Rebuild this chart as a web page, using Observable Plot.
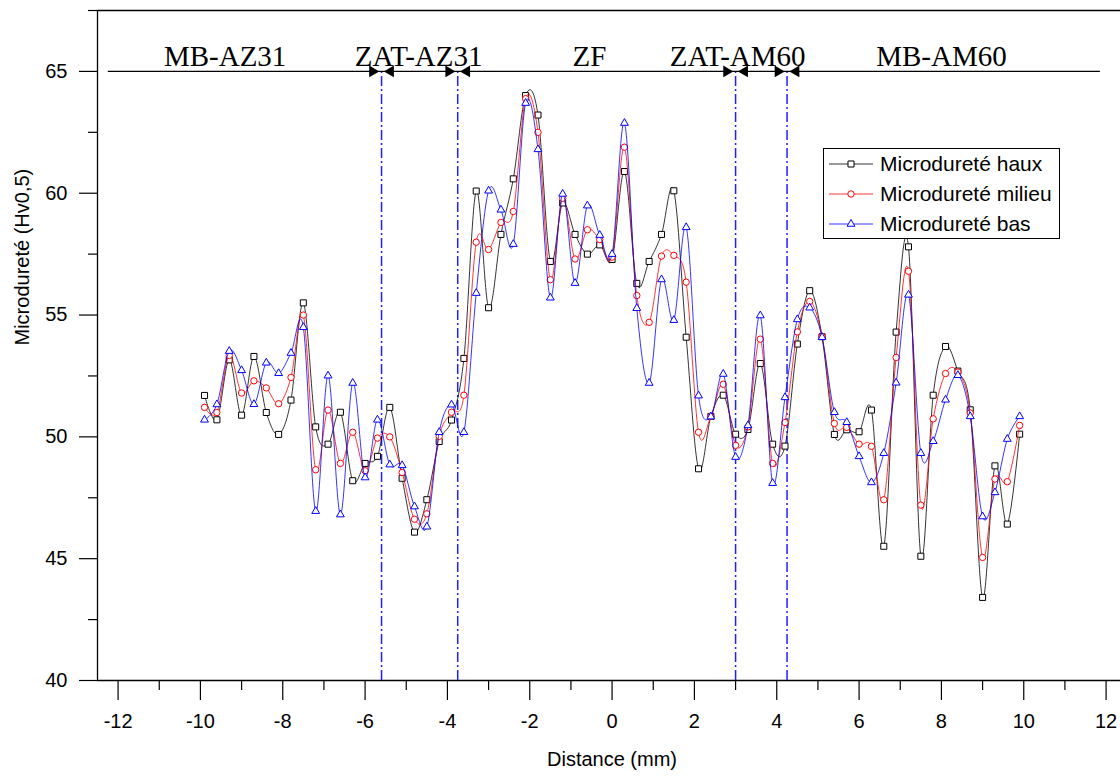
<!DOCTYPE html>
<html><head><meta charset="utf-8">
<script src="https://cdn.jsdelivr.net/npm/d3@7"></script>
<script src="https://cdn.jsdelivr.net/npm/@observablehq/plot@0.6"></script>
<style>
body{margin:0;background:#fff;}
#wrap{position:relative;width:1120px;height:776px;overflow:hidden;}
#legend{position:absolute;left:823px;top:148px;width:237px;height:91px;border:1.5px solid #000;background:#fff;
 font-family:'Liberation Sans',Arial,sans-serif;font-size:21px;box-sizing:border-box;color:#000;}
.row{height:30px;display:flex;align-items:center;}
.row svg{margin-left:3px;margin-right:5px;}
</style></head>
<body><div id="wrap"><div id="legend"></div></div>
<script>
// ---- data ----
const distance = [-9.9,-9.6,-9.3,-9.0,-8.7,-8.4,-8.1,-7.8,-7.5,-7.2,-6.9,-6.6,-6.3,-6.0,-5.7,-5.4,-5.1,
 -4.8,-4.5,-4.2,-3.9,-3.6,-3.3,-3.0,-2.7,-2.4,-2.1,-1.8,-1.5,-1.2,-0.9,-0.6,-0.3,0.0,
 0.3,0.6,0.9,1.2,1.5,1.8,2.1,2.4,2.7,3.0,3.3,3.6,3.9,4.2,4.5,4.8,5.1,
 5.4,5.7,6.0,6.3,6.6,6.9,7.2,7.5,7.8,8.1,8.4,8.7,9.0,9.3,9.6,9.9];
const haux = [51.7,50.7,53.16,50.89,53.3,51.0,50.1,51.51,55.5,50.41,49.7,51.01,48.2,48.91,49.2,51.21,48.3,
 46.09,47.42,49.81,50.69,53.22,60.09,55.3,58.31,60.59,64.01,63.21,57.2,59.6,58.31,57.5,57.88,57.28,
 60.89,56.3,57.2,58.31,60.1,54.09,48.69,50.84,51.71,50.11,50.3,53.01,49.7,49.62,53.81,56.0,54.11,
 50.1,50.29,50.21,51.1,45.51,54.3,57.8,45.1,51.71,53.71,52.7,51.11,43.41,48.81,46.42,50.11];
const milieu = [51.21,51.0,53.34,51.8,52.3,52.01,51.36,52.44,55.0,48.65,51.1,48.91,50.19,48.61,49.95,50.0,48.54,
 46.62,46.84,50.02,51.01,51.71,57.99,57.69,58.8,59.25,63.88,62.5,56.45,59.79,57.3,58.5,58.1,57.38,
 61.89,55.8,54.7,57.42,57.45,56.35,50.19,50.84,52.16,49.65,50.41,54.01,48.91,50.59,54.31,55.56,54.12,
 50.55,50.39,49.7,49.61,47.42,53.26,56.8,47.2,50.74,52.6,52.66,50.98,45.05,48.27,48.16,50.47];
const bas = [50.7,51.33,53.52,52.73,51.34,53.04,52.61,53.44,54.5,46.95,52.51,46.81,52.21,48.33,50.7,48.86,48.83,
 47.14,46.31,50.19,51.32,50.19,55.9,60.1,59.32,57.91,63.7,61.8,55.71,59.97,56.31,59.49,58.28,57.5,
 62.88,55.28,52.21,56.46,54.79,58.6,51.69,50.83,52.58,49.17,50.47,54.98,48.1,51.62,54.82,55.3,54.09,
 51.01,50.6,49.2,48.13,49.33,52.22,55.83,49.33,49.82,51.52,52.53,50.84,46.73,47.72,49.91,50.84];

const seriesNames = ["Microdureté haux","Microdureté milieu","Microdureté bas"];
const seriesValues = [haux, milieu, bas];
const seriesColors = ["#000000","#ff0000","#0000ff"];
const seriesSymbols = ["square","circle","triangle"];

const xMajorTicks = [-12,-10,-8,-6,-4,-2,0,2,4,6,8,10,12];
const xMinorTicks = [-11,-9,-7,-5,-3,-1,1,3,5,7,9,11];
const yMajorTicks = [40,45,50,55,60,65];
const yMinorTicks = [42.5,47.5,52.5,57.5,62.5,67.5];
const xDomain = [-12.5, 12.35];
const yDomain = [40, 67.5];

const zoneBounds = [-5.6, -3.75, 3.0, 4.25];
const zoneLabels = ["MB-AZ31","ZAT-AZ31","ZF","ZAT-AM60","MB-AM60"];
const zoneLabelX = [-9.4, -4.7, -0.55, 3.05, 8.0];
const zoneFrom = [-12.25, -5.6, -3.75, 3.0, 4.25];
const zoneTo = [-5.6, -3.75, 3.0, 4.25, 11.85];
const zoneLevel = 65;

// ---- build tables ----
const table = seriesNames.map((name, s) => distance.map((d, i) => ({series: name, d, v: seriesValues[s][i]})));
const arrows = zoneFrom.map((f, i) => ({from: f, to: zoneTo[i]}));
const headsLeft = arrows.slice(1).map(a => ({x: a.from}));
const headsRight = arrows.slice(0, -1).map(a => ({x: a.to}));
const labels = zoneLabels.map((t, i) => ({t, x: zoneLabelX[i]}));

const markR = [3.4, 3.2, 2.9];
const serieMarks = [];
table.forEach((rows, s) => {
  serieMarks.push(Plot.line(rows, {x: "d", y: "v", stroke: seriesColors[s], strokeWidth: 0.8, curve: "cardinal"}));
  serieMarks.push(Plot.dot(rows, {x: "d", y: "v", symbol: seriesSymbols[s], stroke: seriesColors[s], fill: "white",
    strokeWidth: 1, r: markR[s]}));
});

const hyph = d => (d < 0 ? "-" + Math.abs(d) : String(d));

const chart = Plot.plot({
  width: 1120, height: 776,
  marginLeft: 97, marginRight: 0, marginTop: 10, marginBottom: 96,
  x: {domain: xDomain},
  y: {domain: yDomain},
  style: {fontFamily: "'Liberation Sans', Arial, sans-serif", fontSize: "20px", color: "#000", background: "#fff", overflow: "visible"},
  marks: [
    Plot.axisX({ticks: xMajorTicks, tickSize: 20, tickPadding: 13, tickFormat: hyph, label: null, fontSize: 20, strokeWidth: 1.2}),
    Plot.axisX({ticks: xMinorTicks, tickSize: 10, tickFormat: () => "", label: null, strokeWidth: 1.2}),
    Plot.axisY({ticks: yMajorTicks, tickSize: 18, tickPadding: 12, label: null, fontSize: 20, strokeWidth: 1.2}),
    Plot.axisY({ticks: yMinorTicks, tickSize: 9, tickFormat: () => "", label: null, strokeWidth: 1.2}),
    Plot.ruleY([yDomain[0]], {stroke: "#000", strokeWidth: 1.3}),
    Plot.ruleY([yDomain[1]], {stroke: "#000", strokeWidth: 1.3}),
    Plot.ruleX([xDomain[0]], {stroke: "#000", strokeWidth: 1.3}),
    Plot.text(["Distance (mm)"], {frameAnchor: "bottom", dy: 85, dx: 3, text: d => d, fontSize: 20}),
    Plot.text(["Microdureté (Hv0,5)"], {frameAnchor: "left", dx: -75, rotate: -90, text: d => d, fontSize: 20}),
    Plot.ruleX(zoneBounds, {y1: yDomain[0], y2: zoneLevel, stroke: "#1f1fff", strokeWidth: 1.5, strokeDasharray: "10,3,2,3"}),
    Plot.link(arrows, {x1: "from", x2: "to", y1: () => zoneLevel, y2: () => zoneLevel, stroke: "#000", strokeWidth: 1.3}),
    Plot.dot(headsRight, {x: "x", y: () => zoneLevel, symbol: "triangle", rotate: 90, r: 4.3, fill: "#000", stroke: "none", dx: -9}),
    Plot.dot(headsLeft, {x: "x", y: () => zoneLevel, symbol: "triangle", rotate: -90, r: 4.3, fill: "#000", stroke: "none", dx: 9}),
    Plot.text(labels, {x: "x", y: () => zoneLevel, text: "t", dy: -5, lineAnchor: "bottom", fontSize: 29,
      fontFamily: "'Liberation Serif', 'Times New Roman', serif"}),
    ...serieMarks
  ]
});
document.getElementById("wrap").prepend(chart);

// ---- legend ----
const legend = d3.select("#legend");
seriesNames.forEach((name, s) => {
  const row = legend.append("div").attr("class", "row");
  const svg = row.append("svg").attr("width", 48).attr("height", 20);
  svg.append("line").attr("x1", 2).attr("x2", 46).attr("y1", 10).attr("y2", 10)
    .attr("stroke", seriesColors[s]).attr("stroke-width", 0.8);
  const sym = {square: d3.symbolSquare, circle: d3.symbolCircle, triangle: d3.symbolTriangle}[seriesSymbols[s]];
  svg.append("path").attr("d", d3.symbol(sym, Math.PI * markR[s] * markR[s])()).attr("transform", "translate(24,10)")
    .attr("fill", "white").attr("stroke", seriesColors[s]).attr("stroke-width", 1);
  row.append("span").text(name);
});
</script>
</body></html>
